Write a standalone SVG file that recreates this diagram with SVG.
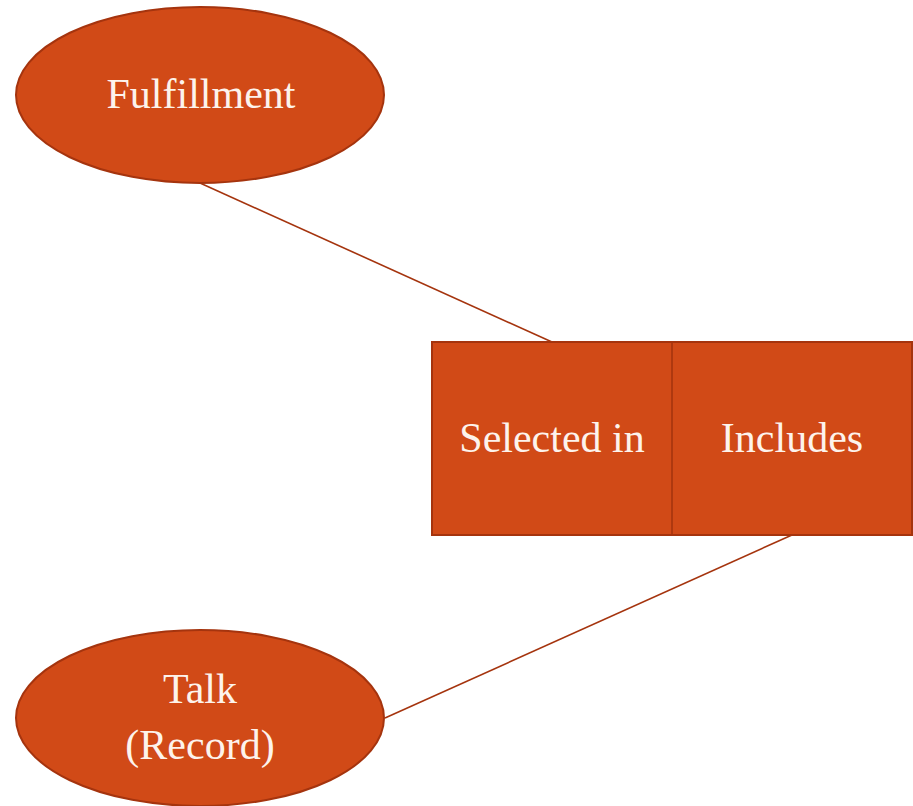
<svg xmlns="http://www.w3.org/2000/svg" width="913" height="806" viewBox="0 0 913 806">
<style>
.shape{fill:#D14A17;stroke:#A5340E;stroke-width:2}
.lbl{font-family:"Liberation Serif","Times New Roman",serif;font-size:42px;fill:#FDF3EC;text-anchor:middle}
.conn{stroke:#A5340E;stroke-width:1.6;fill:none}
</style>
<rect width="913" height="806" fill="#FFFFFF"/>
<g id="connectors">
<line class="conn" x1="200" y1="183" x2="552" y2="342"/>
<line class="conn" x1="792" y1="535" x2="385" y2="718"/>
</g>
<g id="fulfillment">
<ellipse class="shape" cx="200" cy="95" rx="184" ry="88"/>
<text class="lbl" x="201" y="108">Fulfillment</text>
</g>
<g id="relationship">
<rect class="shape" x="432" y="342" width="480" height="193"/>
<line class="conn" x1="672" y1="342" x2="672" y2="535" stroke-width="2"/>
<text class="lbl" x="552" y="452">Selected in</text>
<text class="lbl" x="792" y="452">Includes</text>
</g>
<g id="talk">
<ellipse class="shape" cx="200" cy="718" rx="184" ry="88"/>
<text class="lbl" x="200" y="703">Talk</text>
<text class="lbl" x="200" y="759">(Record)</text>
</g>
</svg>
